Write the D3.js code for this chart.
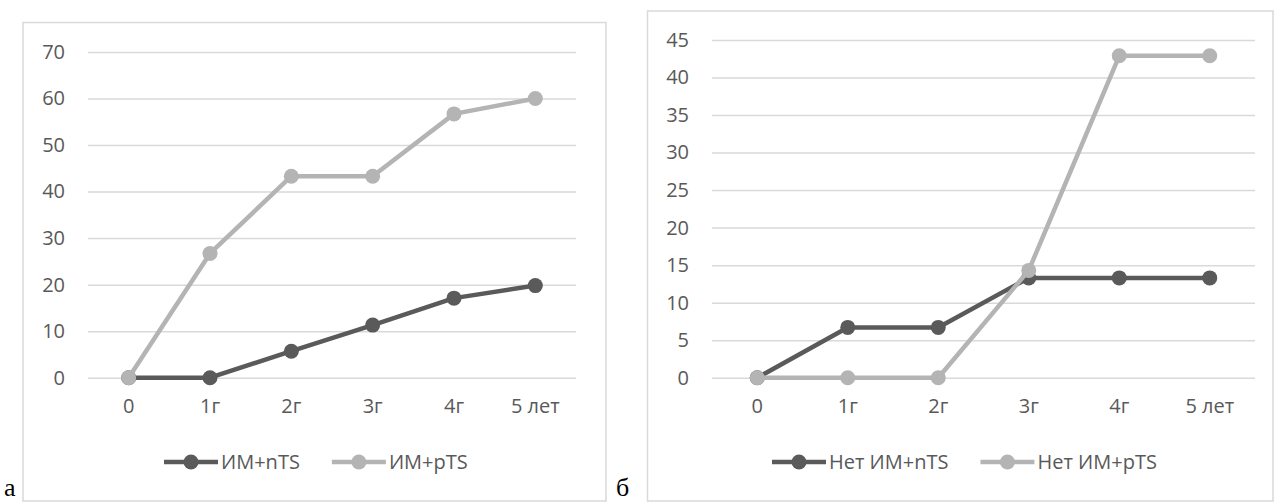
<!DOCTYPE html>
<html>
<head>
<meta charset="utf-8">
<script src="https://cdn.jsdelivr.net/npm/d3@7"></script>
<style>
  body { margin: 0; background: #fff; }
  svg { display: block; }
  text { font-family: "Open Sans", sans-serif; fill: #595959; }
</style>
</head>
<body>
<div id="chart"></div>
<script>
var width = 1274,
height = 502;

// shared categories
var categories = ['0', '1г', '2г', '3г', '4г', '5 лет'];

// chart a
var ticksA = [0, 10, 20, 30, 40, 50, 60, 70];
var namesA = ['ИМ+nTS', 'ИМ+pTS'];
var nTS_A = [0, 0, 5.7, 11.3, 17.1, 19.8];
var pTS_A = [0, 26.7, 43.3, 43.3, 56.7, 60];

// chart b
var ticksB = [0, 5, 10, 15, 20, 25, 30, 35, 40, 45];
var namesB = ['Нет ИМ+nTS', 'Нет ИМ+pTS'];
var nTS_B = [0, 6.7, 6.7, 13.3, 13.3, 13.3];
var pTS_B = [0, 0, 0, 14.3, 42.9, 42.9];

var colors = ['#5a5a5a', '#b4b4b4'];

const svg = d3.select('#chart').
append('svg').
attr('width', width).
attr('height', height);

svg.append('rect').attr('width', width).attr('height', height).attr('fill', '#fff');

function drawChart(opt) {
  const g = svg.append('g');

  // outer frame
  g.append('rect').
  attr('x', opt.frame[0]).
  attr('y', opt.frame[1]).
  attr('width', opt.frame[2] - opt.frame[0]).
  attr('height', opt.frame[3] - opt.frame[1]).
  attr('fill', 'none').
  attr('stroke', '#d9d9d9').
  attr('stroke-width', 1.5);

  var xScale = d3.scaleBand().
  domain(categories).
  range([opt.left, opt.right]);

  var yScale = d3.scaleLinear().
  domain([0, d3.max(opt.ticks)]).
  range([opt.bottom, opt.top]);

  // gridlines + y labels
  const yAxis = d3.axisLeft(yScale).
  tickValues(opt.ticks).
  tickSize(-(opt.right - opt.left)).
  tickPadding(23);

  const ya = g.append('g').
  attr('transform', 'translate(' + opt.left + ',0)').
  call(yAxis);
  ya.select('.domain').remove();
  ya.selectAll('.tick line').attr('stroke', '#d9d9d9').attr('stroke-width', 1.5);
  ya.selectAll('.tick text').
  attr('font-size', 20).
  attr('fill', '#595959').
  attr('font-family', '"Open Sans", sans-serif');

  // x labels
  const xAxis = d3.axisBottom(xScale).tickSize(0).tickPadding(21);
  const xa = g.append('g').
  attr('transform', 'translate(0,' + opt.bottom + ')').
  call(xAxis);
  xa.select('.domain').remove();
  xa.selectAll('.tick text').
  attr('font-size', 20).
  attr('fill', '#595959').
  attr('font-family', '"Open Sans", sans-serif');

  var line = d3.line().
  x((d, i) => xScale(categories[i]) + xScale.bandwidth() / 2).
  y(d => yScale(d));

  opt.series.forEach((s, k) => {
    g.append('path').
    datum(s).
    attr('d', line).
    attr('fill', 'none').
    attr('stroke', colors[k]).
    attr('stroke-width', 4.5).
    attr('stroke-linejoin', 'round');

    g.selectAll('.dot' + k).
    data(s).
    enter().
    append('circle').
    attr('cx', (d, i) => xScale(categories[i]) + xScale.bandwidth() / 2).
    attr('cy', d => yScale(d)).
    attr('r', 7.5).
    attr('fill', colors[k]);
  });

  // legend
  var lx = opt.legendX;
  opt.names.forEach((name, k) => {
    g.append('line').
    attr('x1', lx).attr('x2', lx + 54).
    attr('y1', opt.legendY).attr('y2', opt.legendY).
    attr('stroke', colors[k]).
    attr('stroke-width', 4.5);
    g.append('circle').
    attr('cx', lx + 27).attr('cy', opt.legendY).
    attr('r', 7.5).attr('fill', colors[k]);
    const t = g.append('text').
    attr('x', lx + 57).
    attr('y', opt.legendY).
    attr('dy', '0.35em').
    attr('font-size', 20).
    text(name);
    lx = lx + 57 + t.node().getComputedTextLength() + 32;
  });
}

drawChart({
  frame: [23, 22.5, 606, 501],
  left: 88, right: 576, top: 52, bottom: 377.7,
  ticks: ticksA,
  series: [nTS_A, pTS_A],
  names: namesA,
  legendX: 164, legendY: 462
});

drawChart({
  frame: [647.5, 11, 1273, 501],
  left: 712, right: 1255, top: 40, bottom: 377.7,
  ticks: ticksB,
  series: [nTS_B, pTS_B],
  names: namesB,
  legendX: 772, legendY: 462
});

// panel letters
svg.append('text').
attr('x', 4).attr('y', 496).
style('font-family', '"Liberation Serif", "Times New Roman", serif').
style('fill', '#000').
attr('font-size', 26).
text('а');

svg.append('text').
attr('x', 616).attr('y', 496).
style('font-family', '"Liberation Serif", "Times New Roman", serif').
style('fill', '#000').
attr('font-size', 26).
text('б');
</script>
</body>
</html>
